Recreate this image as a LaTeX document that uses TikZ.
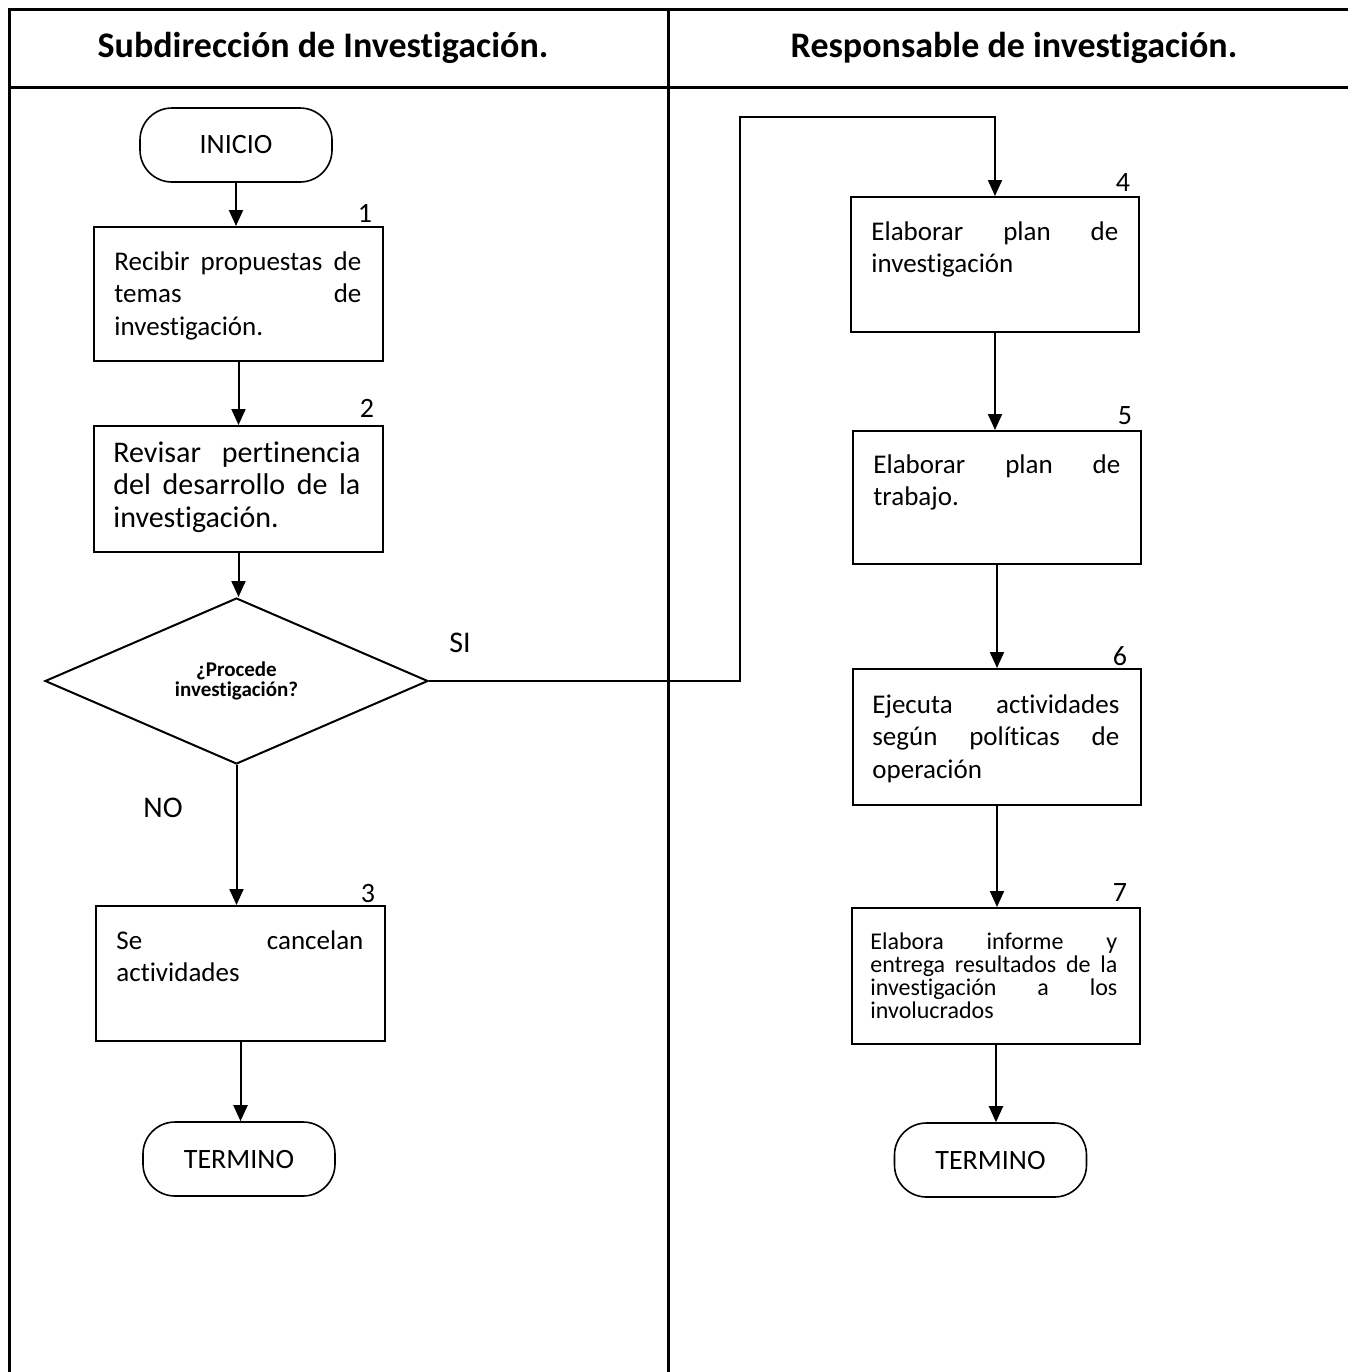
\documentclass[tikz,border=0pt]{standalone}
\usepackage{fontspec}
\setmainfont{Carlito}[Ligatures=NoCommon]
\usetikzlibrary{shapes.geometric,arrows.meta,calc}

% width of the text column inside every process box
\newlength\colw
\setlength\colw{123.5pt}
% a line whose interword spaces stretch to the full column width
\newcommand\jl[1]{\makebox[\colw][s]{#1}}

\begin{document}
\begin{tikzpicture}[x=0.5pt,y=-0.5pt,
  grid/.style={line width=1.5pt},
  procbox/.style={draw, line width=1pt, minimum width=144.5pt, anchor=north west, inner sep=0pt},
  boxtext/.style={anchor=north west, inner sep=0pt, align=left, font=\fontsize{13.5}{16.3}\selectfont},
  terminal/.style={draw, line width=0.8pt, rounded corners=16pt, minimum width=96pt, minimum height=37pt, font=\fontsize{14}{16}\selectfont},
  decision/.style={draw, diamond, line width=1pt, minimum width=191.5pt, minimum height=83pt, inner sep=0pt, align=center, font=\bfseries\fontsize{10.5}{10}\selectfont},
  stepnum/.style={font=\fontsize{14}{16}\selectfont, inner sep=0pt},
  lbl/.style={font=\fontsize{15}{17}\selectfont, inner sep=0pt},
  header/.style={font=\bfseries\fontsize{18}{20}\selectfont, inner sep=0pt},
  flow/.style={line width=1pt, -{Triangle[width=7pt,length=8pt]}}]

\useasboundingbox (0,0) rectangle (1348,1372);

% swimlane table
\draw[grid] (1348,9) -- (9,9) -- (9,1372);
\draw[grid] (9,87) -- (1348,87);
\draw[grid] (668,9) -- (668,1372);
\node[header] (h1) at (323,48) {Subdirección de Investigación.};
\node[header] (h2) at (1014,48) {Responsable de investigación.};

% left lane
\node[terminal] (ini) at (236,145) {INICIO};

\node[procbox, minimum height=67pt] (b1) at (93,226) {};
\node[boxtext] (t1) at ($(b1.north west)+(21,25)$) {\jl{Recibir propuestas de}\\\jl{temas de}\\investigación.};
\node[stepnum] (n1) at (365,213) {1};

\node[procbox, minimum height=63pt] (b2) at (93,425) {};
\node[boxtext, font=\fontsize{15}{16.3}\selectfont] (t2) at ($(b2.north west)+(20,16)$) {\jl{Revisar pertinencia}\\\jl{del desarrollo de la}\\investigación.};
\node[stepnum] (n2) at (367,408) {2};

\node[decision] (dec) at (236.5,681) {¿Procede\\investigación?};
\node[lbl] (si) at (460,643) {SI};
\node[lbl] (no) at (163,808) {NO};

\node[procbox, minimum height=67.5pt] (b3) at (95,905) {};
\node[boxtext] (t3) at ($(b3.north west)+(21,25)$) {\jl{Se cancelan}\\actividades};
\node[stepnum] (n3) at (368,893) {3};

\node[terminal] (endl) at (239,1159) {TERMINO};

% right lane
\node[procbox, minimum width=144pt, minimum height=67.5pt] (b4) at (850,196) {};
\node[boxtext] (t4) at ($(b4.north west)+(21,25)$) {\jl{Elaborar plan de}\\investigación};
\node[stepnum] (n4) at (1123,183) {4};

\node[procbox, minimum width=144pt, minimum height=66.5pt] (b5) at (852,430) {};
\node[boxtext] (t5) at ($(b5.north west)+(21,24)$) {\jl{Elaborar plan de}\\trabajo.};
\node[stepnum] (n5) at (1125,416) {5};

\node[procbox, minimum width=144pt, minimum height=68pt] (b6) at (852,668) {};
\node[boxtext] (t6) at ($(b6.north west)+(20,26)$) {\jl{Ejecuta actividades}\\\jl{según políticas de}\\operación};
\node[stepnum] (n6) at (1120,656) {6};

\node[procbox, minimum width=144pt, minimum height=68pt] (b7) at (851,907) {};
\node[boxtext, font=\fontsize{12}{11.6}\selectfont] (t7) at ($(b7.north west)+(19,25)$) {\jl{Elabora informe y}\\\jl{entrega resultados de la}\\\jl{investigación a los}\\involucrados};
\node[stepnum] (n7) at (1120,893) {7};

\node[terminal] (endr) at (990.5,1160) {TERMINO};

% connectors
\draw[flow] (ini.south) -- (ini.south |- b1.north);
\draw[flow] (b1.south) -- (b1.south |- b2.north);
\draw[flow] (b2.south) -- (b2.south |- dec.north);
\draw[flow] (dec.south) -- (dec.south |- b3.north);
\draw[flow] (b3.south) -- (b3.south |- endl.north);

\coordinate (jog) at (740,117);
\draw[flow] (dec.east) -| (jog) -| (b4.north);
\draw[flow] (b4.south) -- (b4.south |- b5.north);
\draw[flow] (b5.south) -- (b5.south |- b6.north);
\draw[flow] (b6.south) -- (b6.south |- b7.north);
\draw[flow] (b7.south) -- (b7.south |- endr.north);
\end{tikzpicture}
\end{document}
